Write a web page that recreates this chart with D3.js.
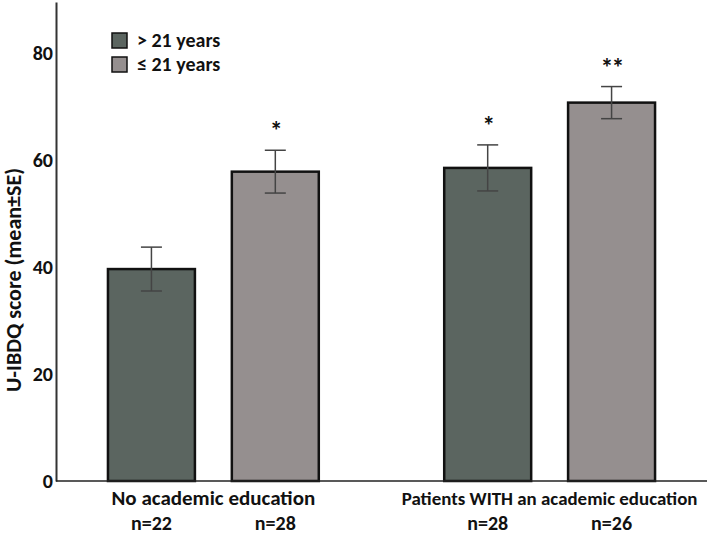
<!DOCTYPE html>
<html lang="en">
    <head>
        <meta charset="utf-8">
        <title>U-IBDQ score by education and age</title>
        <script type="text/javascript" src="https://cdn.jsdelivr.net/npm/d3@7"></script>
        <style>
            body { margin: 0; background: #fff; }
            text { font-family: Carlito, Calibri, Lato, sans-serif; font-weight: bold; fill: #111; }
        </style>
    </head>
    <body>
        <script type="text/javascript">
            //Width and height of the page
            var w = 709;
            var h = 534;

            // data
            var groups = ["No academic education", "Patients WITH an academic education"];
            var ageGroups = ["> 21 years", "\u2264 21 years"];
            var means = [[39.6, 57.8], [58.5, 70.7]];
            var errors = [[4.1, 4.0], [4.3, 3.0]];
            var counts = [["n=22", "n=28"], ["n=28", "n=26"]];
            var stars = [["", "*"], ["*", "**"]];
            var yTicks = [0, 20, 40, 60, 80];
            var colors = ["#5b6560", "#958f8f"];

            var svg = d3.select("body").append("svg").attr("width", w).attr("height", h);

            var x0 = d3.scaleBand().domain(d3.range(groups.length)).range([56, 707])
                .paddingInner(0.373).paddingOuter(0.1545);
            var x1 = d3.scaleBand().domain(d3.range(ageGroups.length)).range([0, x0.bandwidth()])
                .paddingInner(0.298).paddingOuter(0);
            var y = d3.scaleLinear().domain([0, 89.5]).range([481, 2]);

            //flatten into one record per bar
            var bars = [];
            groups.forEach(function(g, gi) {
                ageGroups.forEach(function(a, ai) {
                    bars.push({g: gi, a: ai, mean: means[gi][ai], se: errors[gi][ai],
                        n: counts[gi][ai], star: stars[gi][ai]});
                });
            });
            function cx(d) { return x0(d.g) + x1(d.a) + x1.bandwidth() / 2; }

            // y axis: line plus labels, no tick marks
            var yAxis = svg.append("g").attr("transform", "translate(56,0)")
                .call(d3.axisLeft(y).tickValues(yTicks).tickSize(0).tickPadding(3));
            yAxis.select(".domain").attr("stroke", "#333").attr("stroke-width", 2);
            yAxis.selectAll("text")
                .style("font-size", "20px")
                .style("font-weight", "600")
                .attr("fill", "#111");

            svg.append("text")
                .attr("transform", "translate(21,280) rotate(-90)")
                .attr("text-anchor", "middle")
                .style("font-size", "22px")
                .text("U-IBDQ score (mean\u00B1SE)");

            // bars
            svg.selectAll("rect.bar")
                .data(bars)
                .enter()
                .append("rect")
                .attr("class", "bar")
                .attr("x", function(d) { return x0(d.g) + x1(d.a); })
                .attr("y", function(d) { return y(d.mean); })
                .attr("width", x1.bandwidth())
                .attr("height", function(d) { return y(0) - y(d.mean); })
                .attr("fill", function(d) { return colors[d.a]; })
                .attr("stroke", "#111")
                .attr("stroke-width", 2.5);

            // baseline drawn over the bar bottoms
            svg.append("line")
                .attr("x1", 56).attr("x2", 707)
                .attr("y1", y(0)).attr("y2", y(0))
                .attr("stroke", "#222").attr("stroke-width", 1.5);

            // error bars
            var cap = 10.5;
            var err = svg.selectAll("g.err")
                .data(bars)
                .enter()
                .append("g")
                .attr("class", "err")
                .attr("stroke", "#444")
                .attr("stroke-width", 1.5);
            err.append("line")
                .attr("x1", cx).attr("x2", cx)
                .attr("y1", function(d) { return y(d.mean + d.se); })
                .attr("y2", function(d) { return y(d.mean - d.se); });
            [1, -1].forEach(function(s) {
                err.append("line")
                    .attr("x1", function(d) { return cx(d) - cap; })
                    .attr("x2", function(d) { return cx(d) + cap; })
                    .attr("y1", function(d) { return y(d.mean + s * d.se); })
                    .attr("y2", function(d) { return y(d.mean + s * d.se); });
            });

            // significance stars
            svg.selectAll("text.star")
                .data(bars.filter(function(d) { return d.star; }))
                .enter()
                .append("text")
                .attr("class", "star")
                .attr("x", cx)
                .attr("y", function(d) { return y(d.mean + d.se) - 10; })
                .attr("text-anchor", "middle")
                .style("font-size", "26px")
                .style("letter-spacing", "-2px")
                .text(function(d) { return d.star; });

            // group labels and n= labels
            svg.selectAll("text.group")
                .data(groups)
                .enter()
                .append("text")
                .attr("class", "group")
                .attr("x", function(d, i) { return x0(i) + x0.bandwidth() / 2; })
                .attr("y", 505)
                .attr("text-anchor", "middle")
                .style("font-size", "21px")
                .text(function(d) { return d; })
                .each(function() {
                    //shrink the long label so it stays inside the page
                    var len = this.getComputedTextLength();
                    if (len > 296) {
                        d3.select(this).style("font-size", (21 * 296 / len) + "px");
                    }
                });

            svg.selectAll("text.count")
                .data(bars)
                .enter()
                .append("text")
                .attr("class", "count")
                .attr("x", cx)
                .attr("y", 530)
                .attr("text-anchor", "middle")
                .style("font-size", "20px")
                .text(function(d) { return d.n; });

            // legend
            var legend = svg.selectAll("g.legend")
                .data(ageGroups)
                .enter()
                .append("g")
                .attr("class", "legend")
                .attr("transform", function(d, i) { return "translate(112," + (33 + i * 24) + ")"; });
            legend.append("rect")
                .attr("width", 15).attr("height", 15)
                .attr("fill", function(d, i) { return colors[i]; })
                .attr("stroke", "#111").attr("stroke-width", 1.5);
            legend.append("text")
                .attr("x", 25).attr("y", 14)
                .style("font-size", "20px")
                .text(function(d) { return d; });
        </script>
    </body>
</html>
